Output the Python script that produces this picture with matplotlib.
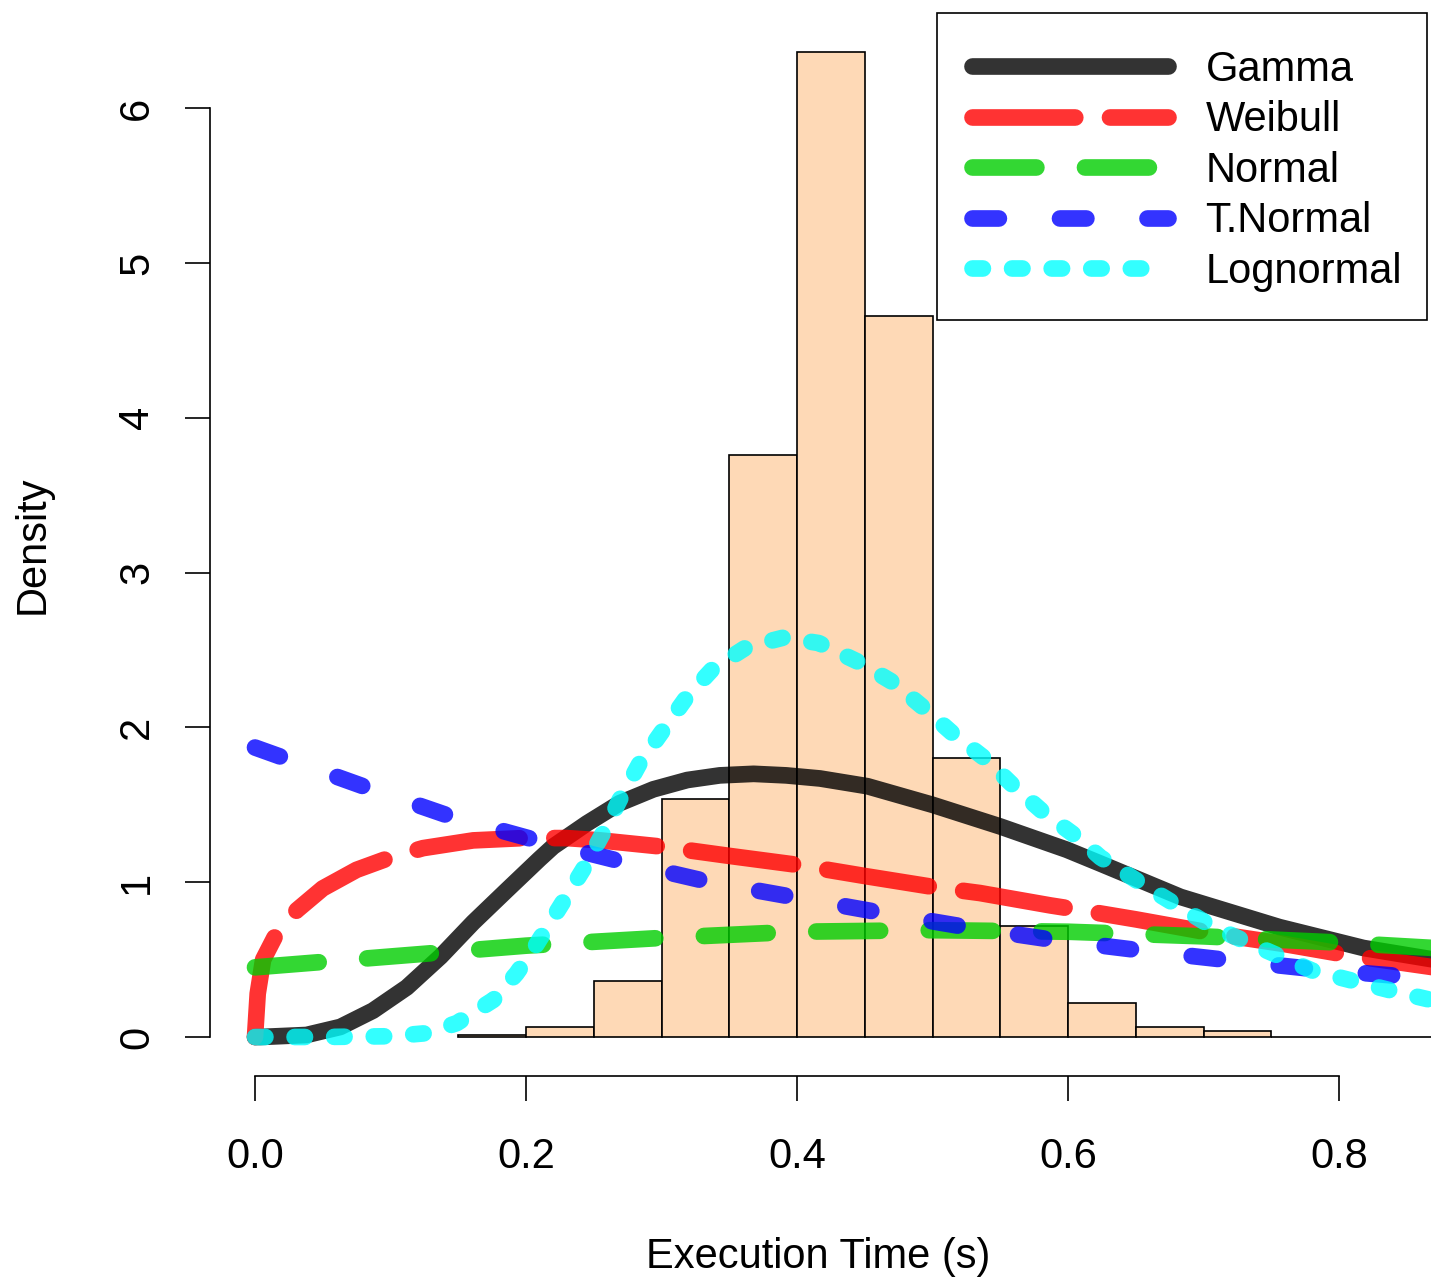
import matplotlib.pyplot as plt
from matplotlib.patches import Rectangle

plt.rcParams['font.family'] = ['Liberation Sans', 'DejaVu Sans']
plt.rcParams['lines.scale_dashes'] = False

# histogram of execution times (bin edges / density)
bin_edges = [0.15, 0.20, 0.25, 0.30, 0.35, 0.40, 0.45, 0.50, 0.55, 0.60, 0.65, 0.70, 0.75, 0.80, 0.85, 0.90]
bin_heights = [0.01, 0.065, 0.36, 1.54, 3.76, 6.36, 4.66, 1.80, 0.72, 0.22, 0.065, 0.04, 0.0, 0.0, 0.0]

# fitted densities
gamma_x = [0.0, 0.004, 0.038, 0.063, 0.087, 0.112, 0.137, 0.161, 0.186, 0.21, 0.22, 0.245, 0.269, 0.294, 0.319, 0.343, 0.368, 0.392, 0.417, 0.452, 0.50, 0.55, 0.599, 0.624, 0.683, 0.756, 0.818, 0.87]
gamma_y = [0.0, 0.0, 0.013, 0.065, 0.17, 0.32, 0.52, 0.74, 0.95, 1.15, 1.23, 1.38, 1.51, 1.60, 1.66, 1.69, 1.70, 1.69, 1.67, 1.62, 1.50, 1.36, 1.21, 1.12, 0.905, 0.71, 0.575, 0.50]

weibull_x = [0.0, 0.002, 0.006, 0.016, 0.031, 0.05, 0.075, 0.10, 0.124, 0.161, 0.198, 0.23, 0.255, 0.30, 0.35, 0.402, 0.45, 0.50, 0.535, 0.587, 0.609, 0.65, 0.707, 0.76, 0.806, 0.87]
weibull_y = [0.0, 0.28, 0.50, 0.67, 0.82, 0.96, 1.08, 1.16, 1.22, 1.27, 1.285, 1.285, 1.27, 1.23, 1.17, 1.11, 1.04, 0.97, 0.93, 0.85, 0.82, 0.76, 0.67, 0.60, 0.53, 0.45]

normal_x = [0.0, 0.1, 0.2, 0.3, 0.4, 0.5, 0.6, 0.7, 0.8, 0.87]
normal_y = [0.45, 0.52, 0.59, 0.64, 0.68, 0.69, 0.68, 0.65, 0.61, 0.575]

tnormal_x = [0.0, 0.083, 0.146, 0.208, 0.272, 0.336, 0.40, 0.464, 0.525, 0.587, 0.653, 0.72, 0.78, 0.85, 0.87]
tnormal_y = [1.87, 1.61, 1.42, 1.27, 1.13, 1.00, 0.90, 0.80, 0.71, 0.63, 0.56, 0.495, 0.44, 0.39, 0.38]

lognormal_x = [0.0, 0.05, 0.10, 0.127, 0.149, 0.176, 0.193, 0.205, 0.225, 0.242, 0.257, 0.269, 0.284, 0.301, 0.319, 0.338, 0.363, 0.39, 0.416, 0.446, 0.471, 0.493, 0.515, 0.540, 0.56, 0.582, 0.607, 0.624, 0.658, 0.707, 0.78, 0.843, 0.87]
lognormal_y = [0.0, 0.0, 0.005, 0.025, 0.09, 0.24, 0.41, 0.56, 0.84, 1.08, 1.32, 1.53, 1.77, 1.98, 2.20, 2.38, 2.52, 2.58, 2.545, 2.42, 2.29, 2.13, 1.96, 1.79, 1.62, 1.45, 1.29, 1.16, 0.97, 0.71, 0.43, 0.29, 0.235]

x_ticks = [0.0, 0.2, 0.4, 0.6, 0.8]
y_ticks = [0, 1, 2, 3, 4, 5, 6]

fig = plt.figure(figsize=(14.31, 12.83), dpi=100)
ax = fig.add_axes([210 / 1431, 1 - 1076 / 1283, 1 - 210 / 1431, (1076 - 48) / 1283])

widths = [bin_edges[i + 1] - bin_edges[i] for i in range(len(bin_heights))]
ax.bar(bin_edges[:-1], bin_heights, width=widths, align='edge', color='#fed9b6',
       edgecolor='black', linewidth=1.2, zorder=1)

lw = 12
ax.plot(gamma_x, gamma_y, color='black', alpha=0.8, lw=lw, solid_capstyle='round', label='Gamma', zorder=2)
ax.plot(weibull_x, weibull_y, color='red', alpha=0.8, lw=lw, dashes=(74, 25), dash_capstyle='round', label='Weibull', zorder=3)
ax.plot(normal_x, normal_y, color='#00cd00', alpha=0.8, lw=lw, dashes=(46, 35), dash_capstyle='round', label='Normal', zorder=4)
ax.plot(tnormal_x, tnormal_y, color='blue', alpha=0.8, lw=lw, dashes=(19, 44), dash_capstyle='round', label='T.Normal', zorder=5)
ax.plot(lognormal_x, lognormal_y, color='cyan', alpha=0.8, lw=lw, dashes=(7.5, 21), dash_capstyle='round', label='Lognormal', zorder=6)

ax.set_xlim((210 - 255) / 1355, (1431 - 255) / 1355)
ax.set_ylim((1037 - 1076) / 154.8, (1037 - 48) / 154.8)

for s in ['top', 'right']:
    ax.spines[s].set_visible(False)
ax.spines['left'].set_bounds(0, 6)
ax.spines['bottom'].set_bounds(0, 0.8)
ax.spines['left'].set_linewidth(1.2)
ax.spines['bottom'].set_linewidth(1.2)
ax.set_xticks(x_ticks, ['0.0', '0.2', '0.4', '0.6', '0.8'])
ax.set_yticks(y_ticks, [str(v) for v in y_ticks])
ax.tick_params(axis='both', length=18, width=1.2, labelsize=30)
ax.tick_params(axis='x', pad=26)
ax.tick_params(axis='y', pad=20)
for lab in ax.get_yticklabels():
    lab.set_rotation(90)
    lab.set_va('center')

fig.text(818 / 1431, 1 - 1257 / 1283, 'Execution Time (s)', fontsize=30, ha='center', va='center')
fig.text(33 / 1431, 1 - 545 / 1283, 'Density', fontsize=30, rotation=90, ha='center', va='center')

leg = ax.legend(loc='upper right', bbox_to_anchor=(1425 / 1431, 1 - 27 / 1283),
                bbox_transform=fig.transFigure, borderaxespad=0, frameon=False,
                fontsize=30, handlelength=4.7, handletextpad=0.9,
                labelspacing=0.25, borderpad=0.55)
fig.patches.append(Rectangle((937 / 1431, 1 - 320 / 1283), 490 / 1431, 307 / 1283,
                             transform=fig.transFigure, fill=False, edgecolor='black',
                             linewidth=1.2, zorder=10))

fig.savefig('out.png', dpi=100)
